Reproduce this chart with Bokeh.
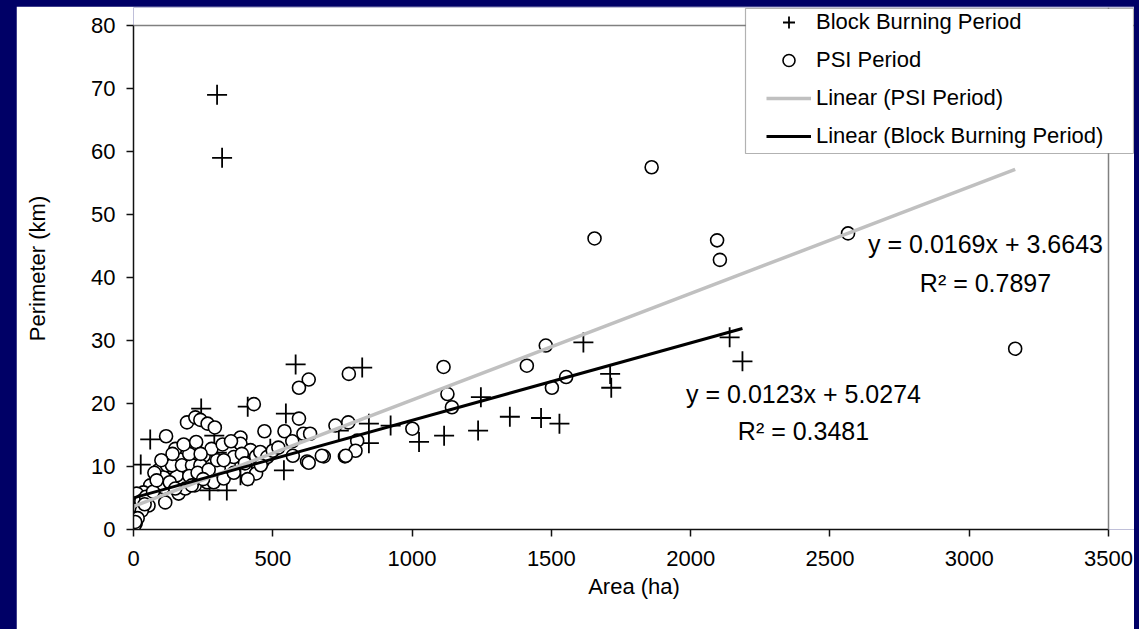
from bokeh.plotting import figure
from bokeh.models import FixedTicker, Legend, LegendItem, Label, BoxAnnotation, Span, Range1d
from bokeh.layouts import column
from bokeh.embed import file_html
from bokeh.resources import INLINE

# ---------------- data ----------------
bb_area = [300, 318, 26, 60, 243, 410, 547, 582, 821, 299, 290, 540, 491, 425, 384, 335, 273,
           737, 845, 923, 845, 1025, 1115, 1237, 1247, 1351, 1463, 1529, 1615, 1711, 1715, 2140, 2186]
bb_perim = [69, 59, 10.3, 14.3, 19.2, 19.5, 18.4, 26.2, 25.7, 12.2, 14.9, 9.4, 12.8, 8.6, 8.6, 6.2, 6.2,
            15.7, 16.8, 16.5, 13.7, 13.9, 14.9, 15.7, 21.0, 17.9, 17.7, 16.8, 29.7, 24.7, 22.5, 30.5, 26.7]

psi_area = [1860, 1655, 2095, 2105, 2565, 3165, 1480, 1412, 1113, 1127, 1553, 1502, 1143, 1001, 773, 629, 594, 432, 594,
            192, 222, 240, 266, 292, 117, 470, 542, 610, 634, 725, 771, 803, 797, 759, 683, 623, 572, 570,
            384, 384, 420, 440, 464, 440, 342, 306, 252, 222, 192, 162, 156, 150, 126, 90, 84, 108, 108, 60,
            36, 12, 18, 2, 2, 1, 120, 138, 174, 210, 240, 264, 288, 324, 162, 186, 114, 54,
            5, 8, 10, 3, 20, 28, 45, 70, 30, 15, 6, 40,
            200, 230, 270, 300, 360, 389, 360, 400, 410, 455, 480, 500, 520, 200, 180, 140, 100, 75, 130,
            150, 220, 250, 280, 320, 350, 225, 241, 324, 629, 676, 762, 457, 83, 209]
psi_perim = [57.5, 46.2, 45.9, 42.8, 47.0, 28.7, 29.2, 26.0, 25.8, 21.5, 24.2, 22.5, 19.4, 16.0, 24.7, 23.8, 22.5, 19.9, 17.6,
             17.0, 17.8, 17.4, 16.8, 16.2, 14.8, 15.6, 15.6, 15.2, 15.2, 16.5, 17.0, 14.1, 12.5, 11.6, 11.6, 10.8, 11.7, 14.0,
             14.6, 13.6, 12.6, 11.6, 10.8, 8.9, 10.2, 9.7, 11.7, 13.6, 9.6, 11.2, 8.6, 12.8, 9.9, 9.4, 8.0, 8.3, 6.7, 7.0,
             5.9, 5.7, 2.7, 2.2, 0.9, 0.4, 10.2, 10.2, 10.2, 10.2, 10.2, 7.5, 7.5, 8.1, 5.7, 6.5, 4.3, 3.8,
             1.5, 1.0, 2.0, 0.6, 3.5, 4.5, 5.2, 6.0, 3.0, 1.8, 1.2, 4.0,
             8.5, 9.0, 9.5, 11.0, 11.5, 12.0, 9.0, 10.5, 8.0, 12.3, 11.5, 12.5, 13.0, 12.0, 13.5, 12.0, 11.0, 9.0, 7.5,
             6.5, 7.0, 8.0, 12.8, 13.5, 14.0, 13.9, 12.0, 11.0, 10.6, 11.7, 11.7, 10.2, 7.8, 7.0]

x_ticks = [0, 500, 1000, 1500, 2000, 2500, 3000, 3500]
y_ticks = [0, 10, 20, 30, 40, 50, 60, 70, 80]

psi_slope, psi_intercept = 0.0169, 3.6643
bb_slope, bb_intercept = 0.0123, 5.0274
psi_eq, psi_r2 = "y = 0.0169x + 3.6643", "R² = 0.7897"
bb_eq, bb_r2 = "y = 0.0123x + 5.0274", "R² = 0.3481"

FONT = "Liberation Sans"
NAVY = "#000066"
INK = "#111111"

X_MAX, Y_MAX = x_ticks[-1], y_ticks[-1]
# the frame is extended beyond the axes (to host the legend box); axes keep their bounds
FRAME_W, FRAME_H = 1001, 522
AX_W, AX_H = 975, 504
x_end = X_MAX * FRAME_W / AX_W
y_end = Y_MAX * FRAME_H / AX_H

p = figure(width=1118, height=623, x_range=Range1d(0, x_end), y_range=Range1d(0, y_end),
           output_backend="svg", toolbar_location=None,
           min_border_left=117, min_border_right=0, min_border_top=1, min_border_bottom=100,
           background_fill_color="white", border_fill_color="white")
p.margin = (6, 5, 0, 16)
p.outline_line_color = None
p.grid.visible = False

for ax, ticks in ((p.xaxis, x_ticks), (p.yaxis, y_ticks)):
    ax.ticker = FixedTicker(ticks=ticks)
    ax.bounds = (ticks[0], ticks[-1])
    ax.major_tick_out = 7
    ax.major_tick_in = 0
    ax.minor_tick_line_color = None
    ax.axis_line_color = INK
    ax.axis_line_width = 1.5
    ax.major_tick_line_color = INK
    ax.major_tick_line_width = 1.5
    ax.major_label_text_font = FONT
    ax.major_label_text_font_size = "22px"
    ax.major_label_text_color = "black"
    ax.axis_label_text_font = FONT
    ax.axis_label_text_font_size = "22px"
    ax.axis_label_text_font_style = "normal"
    ax.axis_label_text_color = "black"
    ax.major_label_standoff = 11

p.xaxis.major_label_standoff = 14
p.xaxis.axis_label = "Area (ha)"
p.yaxis.axis_label = "Perimeter (km)"
p.xaxis.axis_label_standoff = 5
p.yaxis.axis_label_standoff = 38

# plot-area border (top and right)
p.add_layout(Span(location=Y_MAX, dimension="width", line_color="#808080", line_width=1.5))
p.add_layout(Span(location=X_MAX, dimension="height", line_color="#808080", line_width=1.5))

r_bb = p.scatter(bb_area, bb_perim, marker="cross", size=20, line_color="black", line_width=1.8)
r_psi = p.scatter(psi_area, psi_perim, marker="circle", size=13, fill_color="white",
                  line_color="black", line_width=1.6)

psi_x = [0, max(psi_area)]
psi_y = [psi_slope * v + psi_intercept for v in psi_x]
bb_x = [0, max(bb_area)]
bb_y = [bb_slope * v + bb_intercept for v in bb_x]
r_psi_fit = p.line(psi_x, psi_y, line_color="#c0c0c0", line_width=3.5)
r_bb_fit = p.line(bb_x, bb_y, line_color="black", line_width=3)

# trendline labels
for txt, sx, sy in ((psi_eq, 852, 286), (psi_r2, 852, 247), (bb_eq, 670, 136), (bb_r2, 670, 99)):
    p.add_layout(Label(x=sx, y=sy, x_units="screen", y_units="screen", text=txt,
                       text_font=FONT, text_font_size="25px", text_align="center",
                       text_baseline="middle", text_color="black"))

# legend frame
p.add_layout(BoxAnnotation(left=612, right=1000, bottom=376, top=521,
                           left_units="screen", right_units="screen",
                           bottom_units="screen", top_units="screen",
                           fill_color="white", fill_alpha=1.0, line_color="black", line_width=1.2))

legend = Legend(items=[LegendItem(label="Block Burning Period", renderers=[r_bb]),
                       LegendItem(label="PSI Period", renderers=[r_psi]),
                       LegendItem(label="Linear (PSI Period)", renderers=[r_psi_fit]),
                       LegendItem(label="Linear (Block Burning Period)", renderers=[r_bb_fit])],
                location=(633, 378), padding=6, spacing=8, glyph_width=45, glyph_height=30,
                label_height=30, label_standoff=5, label_text_font=FONT,
                label_text_font_size="22px", label_text_color="black",
                border_line_color=None, background_fill_alpha=0.0, margin=0)
p.add_layout(legend)

layout = column(p, width=1139, height=629, styles={"background-color": NAVY})

open("out.html", "w").write(file_html(layout, INLINE))
